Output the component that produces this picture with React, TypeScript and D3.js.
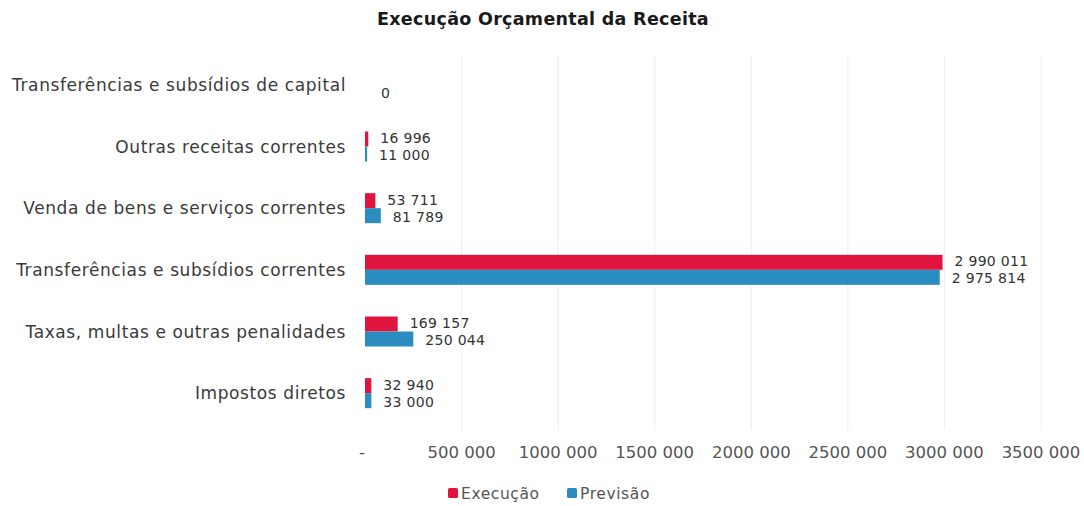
import React from 'react';
import * as d3 from 'd3';

const categories = [
  'Transferências e subsídios de capital',
  'Outras receitas correntes',
  'Venda de bens e serviços correntes',
  'Transferências e subsídios correntes',
  'Taxas, multas e outras penalidades',
  'Impostos diretos',
];
const execucao: (number | null)[] = [null, 16996, 53711, 2990011, 169157, 32940];
const previsao: (number | null)[] = [0, 11000, 81789, 2975814, 250044, 33000];
const ticks = [0, 500000, 1000000, 1500000, 2000000, 2500000, 3000000, 3500000];
const seriesNames = ['Execução', 'Previsão'];
const colors = ['#e0143c', '#2b8cc0'];

const width = 1084;
const height = 506;

const fmt = (v: number) => d3.format(',')(v).replace(/,/g, ' ');
const tickFmt = (v: number) => {
  if (v === 0) return '-';
  const s = String(v);
  return s.slice(0, s.length - 3) + ' ' + s.slice(-3);
};

const App: React.FC = () => {
  const x = d3.scaleLinear().domain([0, 3500000]).range([365, 1041]);
  const y = d3.scaleBand().domain(categories).range([54, 424]);
  const barH = 15;
  const font = '"DejaVu Sans", Verdana, sans-serif';
  const series = [execucao, previsao];

  return (
    <svg width={width} height={height} style={{ display: 'block', position: 'absolute', left: 0, top: 0, background: 'white' }}>
      <text x={543} y={25} textAnchor="middle" fontFamily={font} fontWeight="bold" fontSize={17.5} letterSpacing={0.3} fill="#1a1a1a">
        Execução Orçamental da Receita
      </text>

      {ticks.slice(1).map((t) => (
        <line key={t} x1={x(t)} x2={x(t)} y1={56} y2={430} stroke="#ededed" strokeWidth={1} />
      ))}

      {ticks.map((t) => (
        <text key={t} x={t === 0 ? x(t) - 3 : x(t)} y={458} textAnchor="middle" fontFamily={font} fontSize={16.5} fill="#555">
          {tickFmt(t)}
        </text>
      ))}

      {categories.map((c) => (
        <text key={c} x={346} y={(y(c) as number) + y.bandwidth() / 2 + 6} textAnchor="end" fontFamily={font} fontSize={17} letterSpacing={0.6} fill="#3a3a3a">
          {c}
        </text>
      ))}

      {series.map((vals, si) =>
        vals.map((v, i) => {
          if (v === null) return null;
          const c = categories[i];
          const top = (y(c) as number) + y.bandwidth() / 2 - barH + si * barH;
          // labels pushed slightly apart so the pair doesn't collide
          const ly = top + barH / 2 + 5 + (si === 0 ? -1 : 1);
          return (
            <g key={`${si}-${i}`}>
              {v > 0 && (
                <rect x={x(0)} y={top} width={Math.max(x(v) - x(0), 2)} height={barH} fill={colors[si]} />
              )}
              <text x={x(v) + (v > 0 ? 12 : 16)} y={ly} fontFamily={font} fontSize={14} letterSpacing={0.3} fill="#333">
                {fmt(v)}
              </text>
            </g>
          );
        })
      )}

      {seriesNames.map((s, i) => (
        <g key={s} transform={`translate(${448 + i * 119},${488})`}>
          <rect x={0} y={0} width={10} height={10} rx={1.5} fill={colors[i]} />
          <text x={13} y={11} fontFamily={font} fontSize={15.5} letterSpacing={0.6} fill="#555">
            {s}
          </text>
        </g>
      ))}
    </svg>
  );
};

export default App;
